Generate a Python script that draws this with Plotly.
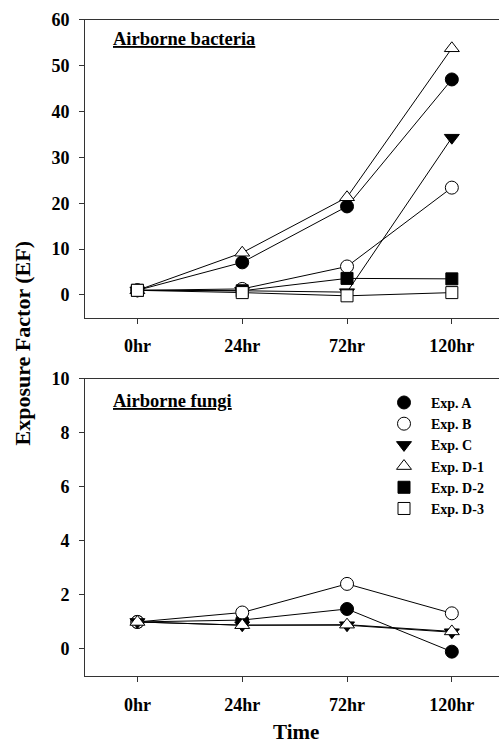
import plotly.graph_objects as go

times = ["0hr", "24hr", "72hr", "120hr"]
series_names = ["Exp. A", "Exp. B", "Exp. C", "Exp. D-1", "Exp. D-2", "Exp. D-3"]

# Airborne bacteria EF
bact_A = [1.0, 7.1, 19.3, 47.0]
bact_B = [1.0, 1.3, 6.2, 23.4]
bact_C = [1.0, 0.9, 0.6, 34.3]
bact_D1 = [1.0, 9.2, 21.3, 53.8]
bact_D2 = [1.0, 0.9, 3.6, 3.5]
bact_D3 = [1.0, 0.5, -0.2, 0.5]

# Airborne fungi EF
fungi_A = [1.0, 1.07, 1.48, -0.1]
fungi_B = [1.0, 1.35, 2.41, 1.32]
fungi_C = [1.0, 0.88, 0.88, 0.62]
fungi_D1 = [1.0, 0.88, 0.9, 0.65]

W, H = 499, 746
FONT = "Liberation Serif, Times New Roman, serif"
AX = "#333333"

styles = {
    "Exp. A": dict(symbol="circle", color="black", size=13),
    "Exp. B": dict(symbol="circle", color="white", size=13),
    "Exp. C": dict(symbol="triangle-down", color="black", size=13),
    "Exp. D-1": dict(symbol="triangle-up", color="white", size=13),
    "Exp. D-2": dict(symbol="square", color="black", size=12),
    "Exp. D-3": dict(symbol="square", color="white", size=12),
}

fig = go.Figure()

def add(name, ys, xa, ya):
    st = styles[name]
    fig.add_trace(go.Scatter(
        x=times, y=ys, mode="lines+markers", name=name, showlegend=False,
        xaxis=xa, yaxis=ya, cliponaxis=False,
        line=dict(color="black", width=1),
        marker=dict(symbol=st["symbol"], color=st["color"], size=st["size"],
                    line=dict(color="black", width=1)),
    ))

for n, ys in zip(series_names, [bact_A, bact_B, bact_C, bact_D1, bact_D2, bact_D3]):
    add(n, ys, "x", "y")
for n, ys in zip(series_names[:4], [fungi_A, fungi_B, fungi_C, fungi_D1]):
    add(n, ys, "x2", "y2")

# legend entries (markers only)
for n in series_names:
    st = styles[n]
    fig.add_trace(go.Scatter(
        x=[None], y=[None], mode="markers", name="\u00a0\u00a0" + n, showlegend=True,
        xaxis="x2", yaxis="y2",
        marker=dict(symbol=st["symbol"], color=st["color"], size=st["size"],
                    line=dict(color="black", width=1)),
    ))

def px2py(p):
    return (H - p) / H

xdom = [85 / W, 1.0]
axis_common = dict(showline=True, linecolor=AX, linewidth=1, ticks="outside",
                   ticklen=5, tickcolor=AX, tickwidth=1, showgrid=False, zeroline=False,
                   tickfont=dict(family=FONT, size=18, color="black", weight="bold"))

fig.update_layout(
    width=W, height=H,
    margin=dict(l=0, r=0, t=0, b=0),
    paper_bgcolor="white", plot_bgcolor="white",
    font=dict(family=FONT, color="black"),
    xaxis=dict(domain=xdom, anchor="y", type="category", categoryorder="array",
               categoryarray=times, range=[-0.5, 3.45], mirror=True,
               ticklabelstandoff=7, **axis_common),
    yaxis=dict(domain=[px2py(312), px2py(10)], anchor="x", range=[-5, 60],
               tickvals=[0, 10, 20, 30, 40, 50, 60], ticklabelstandoff=6, **axis_common),
    xaxis2=dict(domain=xdom, anchor="y2", type="category", categoryorder="array",
                categoryarray=times, range=[-0.5, 3.45], mirror=True,
                ticklabelstandoff=7, **axis_common),
    yaxis2=dict(domain=[px2py(675), px2py(374)], anchor="x2", range=[-1, 10],
                tickvals=[0, 2, 4, 6, 8, 10], ticklabelstandoff=6, **axis_common),
    legend=dict(x=384 / W, xanchor="left", y=px2py(382), yanchor="top",
                bgcolor="rgba(0,0,0,0)", borderwidth=0,
                font=dict(family=FONT, size=14, color="black", weight="bold"),
                tracegroupgap=0),
    annotations=[
        dict(text="<u>Airborne bacteria</u>", xref="paper", yref="paper",
             x=111 / W, y=px2py(29), xanchor="left", yanchor="middle", showarrow=False,
             font=dict(family=FONT, size=18.5, color="black", weight="bold")),
        dict(text="<u>Airborne fungi</u>", xref="paper", yref="paper",
             x=111 / W, y=px2py(396), xanchor="left", yanchor="middle", showarrow=False,
             font=dict(family=FONT, size=18.5, color="black", weight="bold")),
        dict(text="Exposure Factor (EF)", xref="paper", yref="paper",
             x=22 / W, y=px2py(338), xanchor="center", yanchor="middle", showarrow=False,
             textangle=-90,
             font=dict(family=FONT, size=22, color="black", weight="bold")),
        dict(text="Time", xref="paper", yref="paper",
             x=296 / W, y=px2py(732), xanchor="center", yanchor="middle", showarrow=False,
             font=dict(family=FONT, size=21, color="black", weight="bold")),
    ],
)

fig.write_html("out.html")
